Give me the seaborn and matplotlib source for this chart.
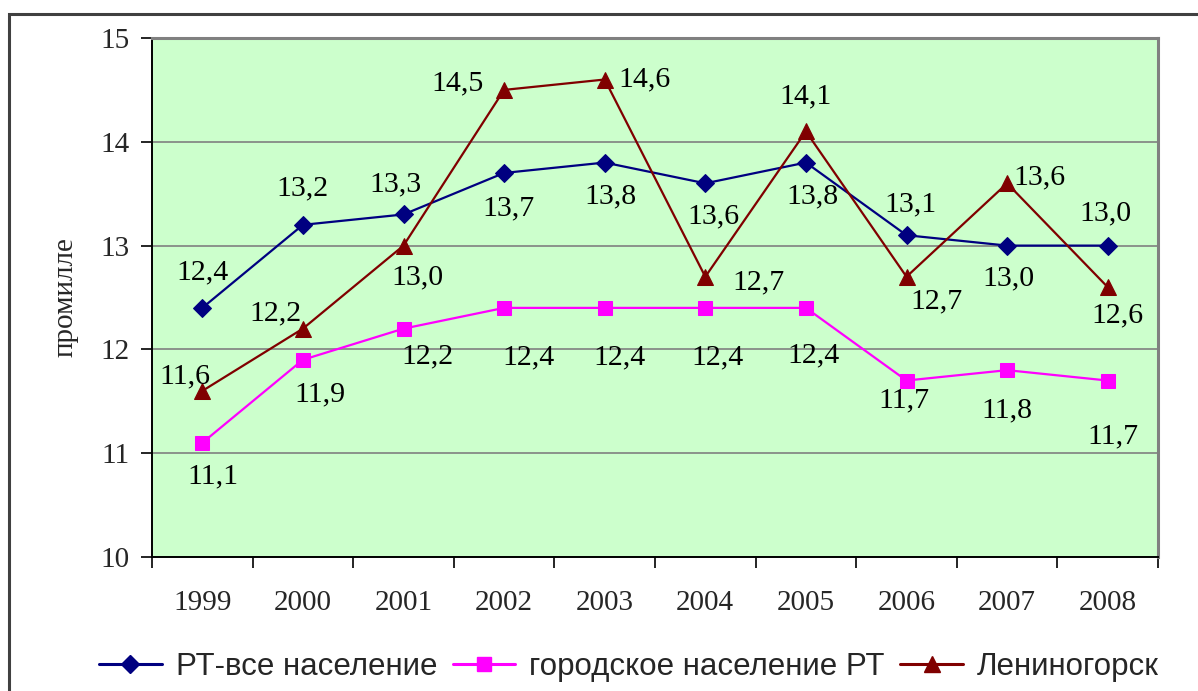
import matplotlib
matplotlib.use("Agg")
import matplotlib.pyplot as plt
from matplotlib import font_manager
from matplotlib.patches import Rectangle
from matplotlib.lines import Line2D
import seaborn as sns
import numpy as np

years = ["1999", "2000", "2001", "2002", "2003", "2004", "2005", "2006", "2007", "2008"]
rt_all = [12.4, 13.2, 13.3, 13.7, 13.8, 13.6, 13.8, 13.1, 13.0, 13.0]
rt_urban = [11.1, 11.9, 12.2, 12.4, 12.4, 12.4, 12.4, 11.7, 11.8, 11.7]
leninogorsk = [11.6, 12.2, 13.0, 14.5, 14.6, 12.7, 14.1, 12.7, 13.6, 12.6]
series_names = ["РТ-все население", "городское население РТ", "Лениногорск"]

# label offsets in pixels (dx, dy) for each point
off_all = [(0, 36), (0, 36), (-8, 30), (4, -35), (6, -34), (8, -33), (7, -34), (4, 31), (1, -33), (-2, 32)]
off_urban = [(11, -34), (17, -35), (24, -28), (24, -49), (15, -49), (12, -49), (8, -47), (-3, -20), (0, -40), (5, -56)]
off_len = [(-17, 15), (-27, 15), (14, -32), (-47, 7), (40, 0), (53, -6), (0, 35), (30, -25), (32, 6), (10, -28)]

sns.set_theme(style="white")
plt.rcParams["font.family"] = ["Liberation Serif", "DejaVu Serif"]

installed = {f.name for f in font_manager.fontManager.ttflist}
legend_family = "Liberation Sans Narrow" if "Liberation Sans Narrow" in installed else "Liberation Sans"
legend_size = 25 if legend_family == "Liberation Sans Narrow" else 22.5

fig = plt.figure(figsize=(11.98, 6.91), dpi=100)
ax = fig.add_axes([152 / 1198, 1 - 557 / 691, (1158 - 152) / 1198, (557 - 38) / 691])
ax.set_facecolor("#CCFFCC")

x = np.arange(len(years))
styles = [
    (rt_all, "#000080", "D", 9, off_all),
    (rt_urban, "#FF00FF", "s", 10, off_urban),
    (leninogorsk, "#800000", "^", 12, off_len),
]
for (vals, col, mk, ms, offs), name in zip(styles, series_names):
    sns.lineplot(x=x, y=vals, ax=ax, color=col, marker=mk, markersize=ms,
                 markeredgecolor=col, markerfacecolor=col, linewidth=1.6,
                 label=name, legend=False, zorder=3)
    for xi, v, (dx, dy) in zip(x, vals, offs):
        ax.annotate(f"{v:.1f}".replace(".", ","), (xi, v), xytext=(dx, dy),
                    textcoords="offset pixels", ha="center", va="center",
                    fontsize=21.5, color="black", zorder=5)

ax.set_xlim(-0.5, len(years) - 0.5)
ax.set_ylim(10, 15)
ax.set_yticks([10, 11, 12, 13, 14, 15])
ax.yaxis.grid(True, color="#808080", linewidth=1.2, zorder=0)
ax.set_axisbelow(True)

ax.set_xticks(x)
ax.set_xticklabels(years)
ax.set_xticks(np.arange(-0.5, len(years)), minor=True)
ax.tick_params(axis="x", which="major", length=0, pad=24, labelsize=21)
ax.tick_params(axis="x", which="minor", length=8, width=1.2, color="black", direction="out", bottom=True)
ax.tick_params(axis="y", length=8, width=1.2, color="black", direction="out", left=True, pad=8, labelsize=21)

for s in ["left", "bottom"]:
    ax.spines[s].set_color("black")
    ax.spines[s].set_linewidth(1.4)
for s in ["top", "right"]:
    ax.spines[s].set_color("#808080")
    ax.spines[s].set_linewidth(2.2)

ax.set_ylabel("промилле", fontsize=21, labelpad=16)
ax.set_xlabel("")

handles = [Line2D([0], [0], color=c, marker=m, markersize=ms, linewidth=2.2)
           for (_, c, m, ms, _) in styles]
fig.legend(handles, series_names, loc="center", bbox_to_anchor=(629 / 1198, 1 - 667 / 691),
           ncol=3, frameon=False, handlelength=2.0, handletextpad=0.45, columnspacing=0.5,
           prop={"family": [legend_family, "DejaVu Sans"], "size": legend_size})

# outer frame of the chart area
fig.patches.append(Rectangle((9 / 1198, -0.05), 1.1, 1 - 14 / 691 + 0.05,
                             transform=fig.transFigure, fill=False,
                             edgecolor="#404040", linewidth=2.2))

fig.savefig("out.png", dpi=100)
